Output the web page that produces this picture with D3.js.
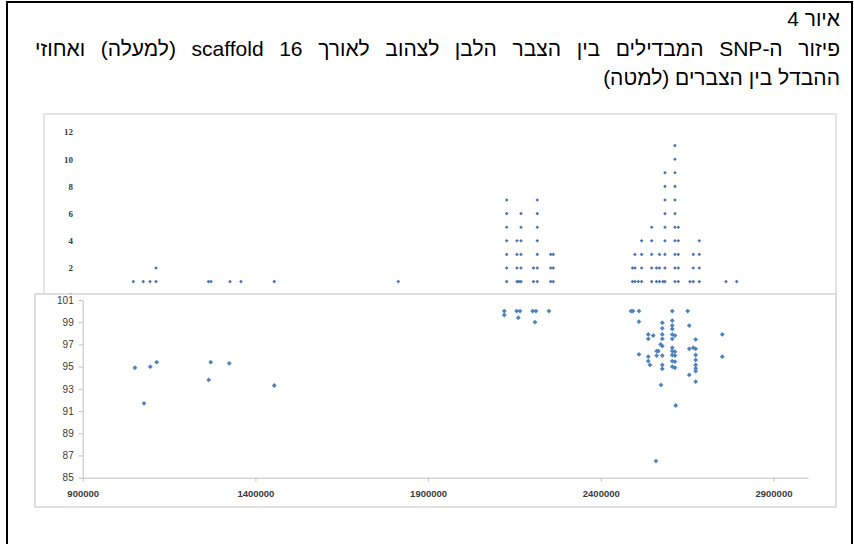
<!DOCTYPE html>
<html>
<head>
<meta charset="utf-8">
<script src="https://cdn.jsdelivr.net/npm/d3@7"></script>
<style>
  body { margin: 0; background: #fff; }
  #page { position: relative; width: 854px; height: 544px; overflow: hidden; background: #fff; }
  #page svg { position: absolute; left: 0; top: 0; }
  .cap {
    position: absolute; direction: rtl; unicode-bidi: embed;
    font-family: "Liberation Sans", Arial, sans-serif; font-size: 21px;
    color: #000; white-space: nowrap; line-height: 1;
  }
  .cap.just { text-align: justify; text-align-last: justify; white-space: normal; }
</style>
</head>
<body>
<div id="page">
  <svg id="chart" width="854" height="544"></svg>
</div>
<script>
// Caption lines (the middle line is justified across the full width)
const captionLines = [
  "איור 4",
  "פיזור ה-SNP המבדילים בין הצבר הלבן לצהוב לאורך scaffold 16 (למעלה) ואחוזי",
  "ההבדל בין הצברים (למטה)"
];

// Shared position axis
const positionTicks = [900000, 1400000, 1900000, 2400000, 2900000];
// Upper panel: SNP count axis
const countTicks = [0, 2, 4, 6, 8, 10, 12];
// Lower panel: percent difference axis
const pctTicks = [85, 87, 89, 91, 93, 95, 97, 99, 101];

// Upper panel: windows along the scaffold and the number of SNPs found in each
const snpWindowPos = [
  1046500, 1075400, 1094800, 1112200, 1264200, 1271500, 1326500, 1358300, 1454700, 1813700,
  2127600, 2157400, 2163000, 2169000, 2205200, 2216200, 2255000, 2262500,
  2491800, 2499000, 2508600, 2518400, 2547400, 2561300, 2570000, 2580100, 2585900,
  2614800, 2624400, 2658300, 2667800, 2685200, 2762500, 2793500
];
const snpWindowCount = [
  1, 1, 1, 2, 1, 1, 1, 1, 1, 1,
  7, 4, 1, 6, 2, 7, 3, 3,
  2, 3, 1, 4, 5, 2, 3, 1, 9,
  11, 5, 1, 3, 4, 1, 1
];

// Lower panel: SNP position and percent difference between the clusters
const diffPos = [
  1051200, 1077500, 1095700, 1114200, 1264800, 1270600, 1324400, 1454700,
  2120600, 2120600, 2156500, 2166100, 2161100, 2202800, 2212400, 2209500, 2250000,
  2487400, 2493200, 2510600, 2510600, 2607000, 2651600,
  2578100, 2607000, 2607000, 2607000, 2578100, 2656200,
  2751800, 2537500, 2552000, 2537500, 2578100, 2607000, 2614800, 2578100, 2607000, 2674800,
  2573400, 2578100, 2607000, 2656200, 2667800, 2674800,
  2561800, 2566500, 2607000, 2614800,
  2510600, 2537500, 2561800, 2578100, 2607000, 2614800, 2674800, 2751800,
  2537500, 2607000, 2614800, 2674800,
  2542400, 2578100, 2607000, 2614800, 2674800, 2674800,
  2578100, 2674800, 2656200, 2674800, 2574300, 2616900, 2559800
];
const diffPct = [
  94.9, 91.7, 95.0, 95.4, 93.8, 95.4, 95.3, 93.3,
  100.0, 99.65, 100.0, 100.0, 99.4, 100.0, 100.0, 99.0, 100.0,
  100.0, 100.0, 100.0, 99.05, 100.0, 100.0,
  98.95, 99.15, 98.7, 98.4, 98.45, 98.7,
  97.9, 97.9, 97.8, 97.5, 97.9, 97.9, 97.8, 97.5, 97.5, 97.45,
  97.0, 96.85, 96.7, 96.6, 96.7, 96.6,
  96.4, 96.4, 96.4, 96.35,
  96.1, 95.9, 96.0, 96.0, 96.05, 96.0, 96.05, 95.9,
  95.5, 95.5, 95.45, 95.6,
  95.15, 95.15, 95.0, 94.9, 95.15, 94.85,
  94.8, 94.6, 94.25, 93.65, 93.35, 91.5, 86.5
];

const svg = d3.select("#chart");
const page = d3.select("#page");

// Outer page frame
svg.append("rect")
  .attr("x", 7).attr("y", 2).attr("width", 845).attr("height", 600)
  .attr("fill", "none").attr("stroke", "#000").attr("stroke-width", 2);

// Caption
const capTops = [8, 38, 67];
captionLines.forEach((t, i) => {
  const d = page.append("div").attr("class", "cap").style("top", capTops[i] + "px").text(t);
  if (i === 1) d.classed("just", true).style("left", "35px").style("width", "805px");
  else d.style("right", "14px");
});

const x = d3.scaleLinear().domain([900000, 3000000]).range([82.7, 808]);
const yCount = d3.scaleLinear().domain([0, 12]).range([295.2, 132]);
const yPct = d3.scaleLinear().domain([85, 101]).range([477.7, 300]);

const diamond = r => `M0,${-r}L${r},0L0,${r}L${-r},0Z`;
const axisGrey = "#bfbfbf";
const labelColor = "#3a3a3a";

// ---------- Upper panel: SNP counts ----------
const upper = svg.append("g");
upper.append("rect")
  .attr("x", 44).attr("y", 114).attr("width", 792).attr("height", 250)
  .attr("fill", "#fff").attr("stroke", "#d4d4d4").attr("stroke-width", 1.2);

const yCountAxis = d3.axisLeft(yCount).tickValues(countTicks).tickSize(0).tickPadding(0);
const gc = upper.append("g").attr("transform", "translate(73,0)").call(yCountAxis);
gc.select(".domain").remove();
gc.selectAll("text")
  .attr("fill", labelColor)
  .style("font-family", "'Liberation Serif', 'DejaVu Serif', serif")
  .style("font-weight", "bold")
  .style("font-size", "9px");

const snpDots = [];
snpWindowPos.forEach((p, i) => {
  for (let k = 1; k <= snpWindowCount[i]; k++) snpDots.push([p, k]);
});
upper.append("g").selectAll("path")
  .data(snpDots).join("path")
  .attr("d", diamond(1.8))
  .attr("transform", d => `translate(${x(d[0])},${yCount(d[1])})`)
  .attr("fill", "#4a72ad");

// ---------- Lower panel: percent difference ----------
const lower = svg.append("g");
lower.append("rect")
  .attr("x", 35).attr("y", 294).attr("width", 801).attr("height", 213)
  .attr("fill", "#fff").attr("stroke", "#d4d4d4").attr("stroke-width", 1.5);

const yPctAxis = d3.axisLeft(yPct).tickValues(pctTicks).tickSizeInner(4).tickSizeOuter(0).tickPadding(5);
const gp = lower.append("g").attr("transform", "translate(82.7,0)").call(yPctAxis);
gp.select(".domain").attr("stroke", axisGrey);
gp.selectAll(".tick line").attr("stroke", axisGrey);
gp.selectAll("text")
  .attr("fill", labelColor)
  .style("font-family", "'Liberation Sans', Arial, sans-serif")
  .style("font-size", "10px");

const xAxis = d3.axisBottom(x).tickValues(positionTicks).tickFormat(d3.format("d"))
  .tickSizeInner(4).tickSizeOuter(0).tickPadding(9);
const gx = lower.append("g").attr("transform", "translate(0,477.7)").call(xAxis);
gx.select(".domain").attr("stroke", axisGrey);
gx.selectAll(".tick line").attr("stroke", axisGrey);
gx.selectAll("text")
  .attr("fill", labelColor)
  .style("font-family", "'Liberation Sans', Arial, sans-serif")
  .style("font-weight", "bold")
  .style("font-size", "9.5px");

lower.append("g").selectAll("path")
  .data(diffPos.map((p, i) => [p, diffPct[i]])).join("path")
  .attr("d", diamond(2.4))
  .attr("transform", d => `translate(${x(d[0])},${yPct(d[1])})`)
  .attr("fill", "#4f81bd");
</script>
</body>
</html>
